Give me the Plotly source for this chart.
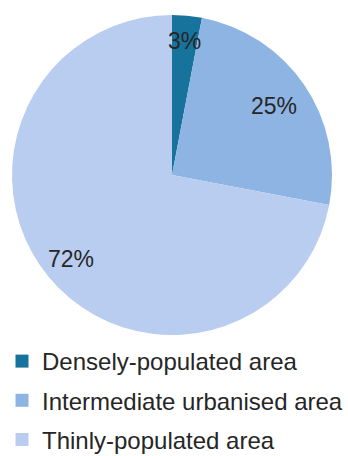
import math
import plotly.graph_objects as go

# Share of area by degree of urbanisation (%)
categories = ["Densely-populated area", "Intermediate urbanised area", "Thinly-populated area"]
shares = [3, 25, 72]
colors = ["#17729C", "#8EB4E3", "#B9CDF0"]

W, H = 348, 456
CX, CY, R = 172, 175, 160          # pie centre and radius in pixels
label_radius = [0.84, 0.77, 0.82]  # data-label distance as a fraction of the radius
FONT = "Liberation Sans, Arial, sans-serif"
TEXT = "#262626"

fig = go.Figure()

fig.add_trace(go.Pie(
    labels=categories,
    values=shares,
    sort=False,
    direction="clockwise",
    rotation=0,
    marker=dict(colors=colors, line=dict(width=0)),
    textinfo="none",
    hoverinfo="label+percent",
    showlegend=False,
    domain=dict(x=[(CX - R) / W, (CX + R) / W],
                y=[1 - (CY + R) / H, 1 - (CY - R) / H]),
))

# legend entries, one group each so the rows can be spaced apart
for name, col in zip(categories, colors):
    fig.add_trace(go.Scatter(
        x=[None], y=[None], mode="markers", name=name, legendgroup=name,
        marker=dict(symbol="square", size=13, color=col),
    ))

# percentage labels placed at each slice's mid-angle
total = sum(shares)
cum = 0
for v, rf in zip(shares, label_radius):
    mid = (cum + v / 2) / total * 2 * math.pi
    cum += v
    px = CX + rf * R * math.sin(mid)
    py = CY - rf * R * math.cos(mid)
    fig.add_annotation(
        x=px / W, y=1 - py / H, xref="paper", yref="paper",
        text=f"{v}%", showarrow=False,
        font=dict(family=FONT, size=23, color=TEXT),
        xanchor="center", yanchor="middle",
    )

fig.update_layout(
    width=W, height=H,
    margin=dict(l=0, r=0, t=0, b=0, autoexpand=False),
    paper_bgcolor="white", plot_bgcolor="white",
    xaxis=dict(visible=False), yaxis=dict(visible=False),
    legend=dict(
        x=2 / W, y=1 - 339 / H, xanchor="left", yanchor="top",
        orientation="v", traceorder="grouped", tracegroupgap=5,
        maxheight=300,
        font=dict(family=FONT, size=24, color=TEXT),
        bgcolor="rgba(0,0,0,0)", itemclick=False, itemdoubleclick=False,
    ),
)

fig.write_html("out.html")
